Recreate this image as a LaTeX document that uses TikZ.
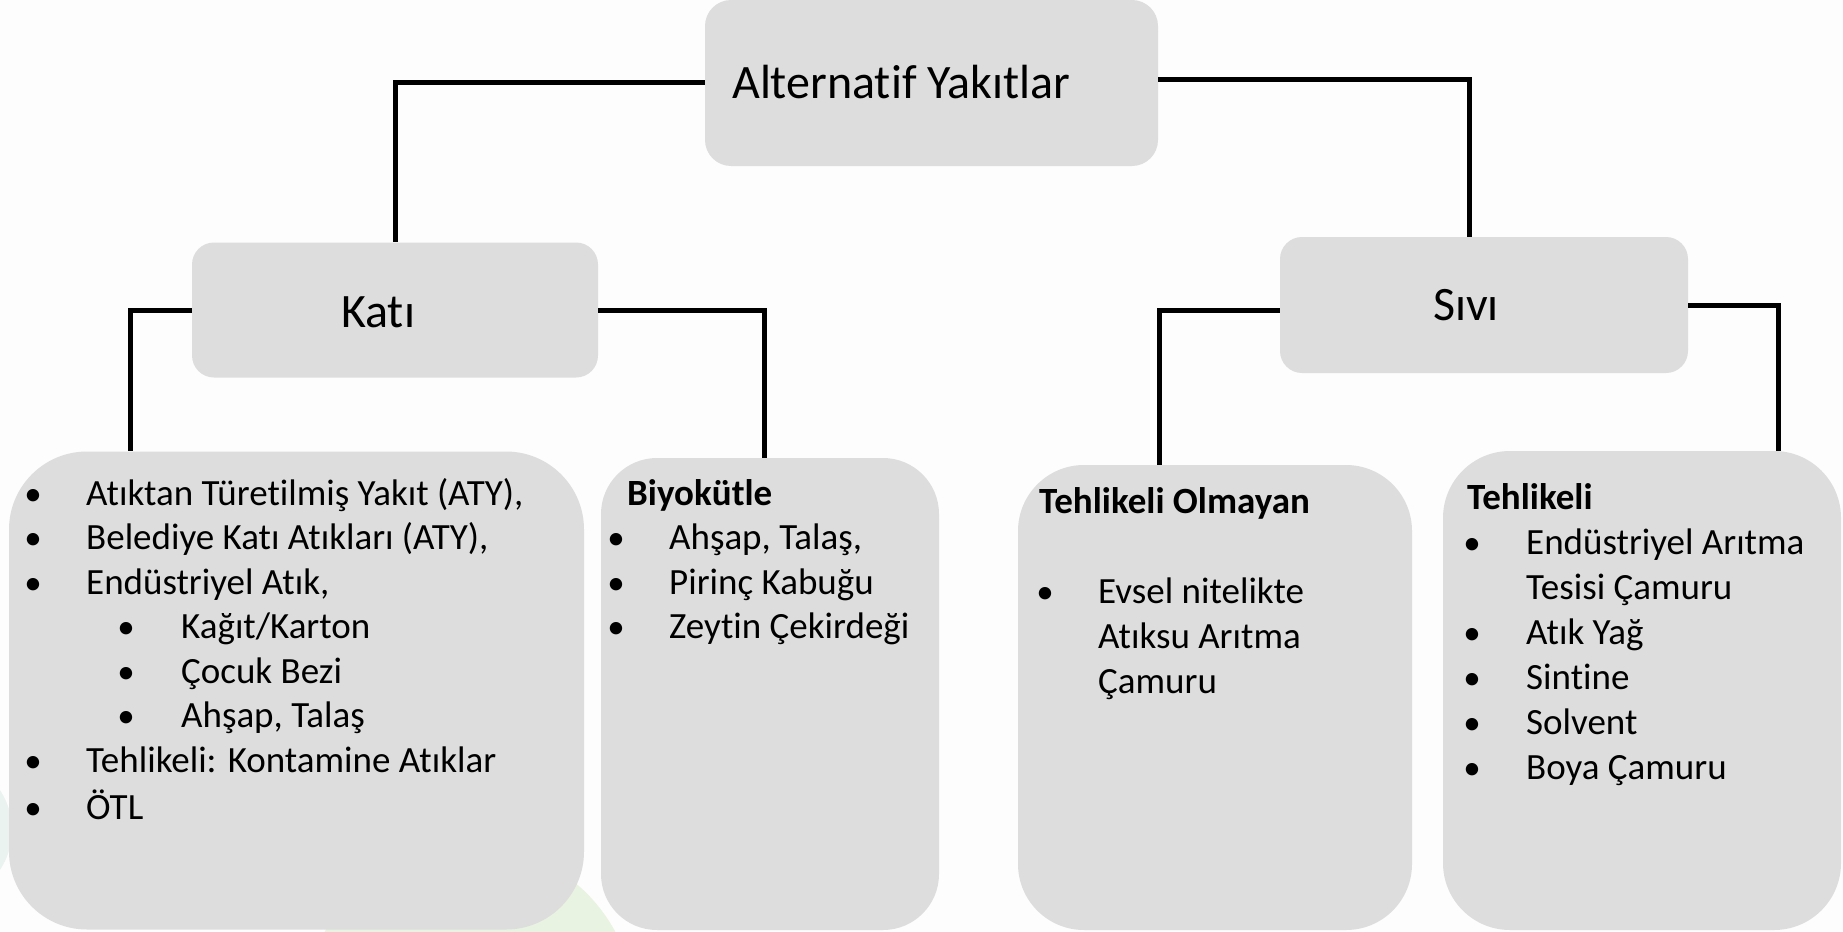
\documentclass[tikz,border=0pt]{standalone}
\usepackage{fontspec}
\setmainfont[Ligatures=NoCommon]{Carlito}
\definecolor{boxgray}{RGB}{221,221,221}
\definecolor{bgc}{RGB}{253,253,253}
\definecolor{leafgreen}{RGB}{233,243,225}
\definecolor{leafteal}{RGB}{234,243,240}
\newcommand{\bitem}[5]{\node[bul] (#1b) at (#2,#4) {•}; \node[txt] (#1) at (#3,#4) {#5};}
\begin{document}
\begin{tikzpicture}[x=1pt,y=-1pt,
  panel/.style={fill=boxgray, draw=none, inner sep=0pt, rectangle},
  big/.style={font=\fontsize{48}{56}\selectfont, inner sep=0pt, anchor=base west},
  txt/.style={font=\fontsize{37}{44}\selectfont, inner sep=0pt, anchor=base west},
  head/.style={font=\fontsize{37}{44}\selectfont\bfseries, inner sep=0pt, anchor=base west},
  bul/.style={font=\fontsize{35}{42}\selectfont, inner sep=0pt, anchor=base},
  link/.style={draw=black, line width=5pt}]
\path[use as bounding box, fill=bgc] (0,0) rectangle (1843,931);
\begin{scope}
\clip (0,0) rectangle (1843,931);
\fill[leafgreen] (470,1010) circle (165pt);
\fill[leafteal] (-60,830) circle (72pt);
\end{scope}
% boxes
\node[panel, minimum width=453pt, minimum height=166pt, rounded corners=26pt] (top) at (931.5,83) {};
\node[panel, minimum width=406pt, minimum height=135pt, rounded corners=22pt] (kati) at (395,310) {};
\node[panel, minimum width=408pt, minimum height=136pt, rounded corners=22pt] (sivi) at (1484,305) {};
\node[panel, minimum width=575pt, minimum height=478pt, rounded corners=78pt] (b1) at (296.5,690.5) {};
\node[panel, minimum width=338pt, minimum height=472pt, rounded corners=56pt] (b2) at (770,694) {};
\node[panel, minimum width=394pt, minimum height=465pt, rounded corners=66pt] (b3) at (1215,697.5) {};
\node[panel, minimum width=398pt, minimum height=479pt, rounded corners=67pt] (b4) at (1642,690.5) {};
% connectors
\draw[link] (top.west) -| (kati.north);
\draw[link] ([yshift=3pt]top.east) -| ([xshift=-15pt]sivi.north);
\draw[link] (kati.west) -| ([xshift=-166.5pt]b1.north);
\draw[link] (kati.east) -| ([xshift=-6pt]b2.north);
\draw[link] ([yshift=-5pt]sivi.west) -| ([xshift=-56pt]b3.north);
\draw[link] (sivi.east) -| ([xshift=136pt]b4.north);
% titles
\node[big] (ttop) at (732,99) {Alternatif Yakıtlar};
\node[big] (tkati) at (341,327) {Katı};
\node[big] (tsivi) at (1433,320) {Sıvı};
% box 1
\bitem{a1}{33}{86}{505}{Atıktan Türetilmiş Yakıt (ATY),}
\bitem{a2}{33}{86}{549.5}{Belediye Katı Atıkları (ATY),}
\bitem{a3}{33}{86}{594}{Endüstriyel Atık,}
\bitem{a4}{126}{181}{638.5}{Kağıt/Karton}
\bitem{a5}{126}{181}{683}{Çocuk Bezi}
\bitem{a6}{126}{181}{727.5}{Ahşap, Talaş}
\bitem{a7}{33}{86}{772}{Tehlikeli: Kontamine Atıklar}
\bitem{a8}{33}{86}{819}{ÖTL}
% box 2
\node[head] (h2) at (627,505) {Biyokütle};
\bitem{c1}{616}{669}{549.5}{Ahşap, Talaş,}
\bitem{c2}{616}{669}{594}{Pirinç Kabuğu}
\bitem{c3}{616}{669}{638.5}{Zeytin Çekirdeği}
% box 3
\node[head] (h3) at (1039,513) {Tehlikeli Olmayan};
\bitem{d1}{1045}{1098}{603}{Evsel nitelikte}
\node[txt] (d2) at (1098,648) {Atıksu Arıtma};
\node[txt] (d3) at (1098,693) {Çamuru};
% box 4
\node[head] (h4) at (1467,509) {Tehlikeli};
\bitem{e1}{1472}{1526}{554}{Endüstriyel Arıtma}
\node[txt] (e1b2) at (1526,599) {Tesisi Çamuru};
\bitem{e2}{1472}{1526}{644}{Atık Yağ}
\bitem{e3}{1472}{1526}{689}{Sintine}
\bitem{e4}{1472}{1526}{734}{Solvent}
\bitem{e5}{1472}{1526}{779}{Boya Çamuru}
\end{tikzpicture}
\end{document}
